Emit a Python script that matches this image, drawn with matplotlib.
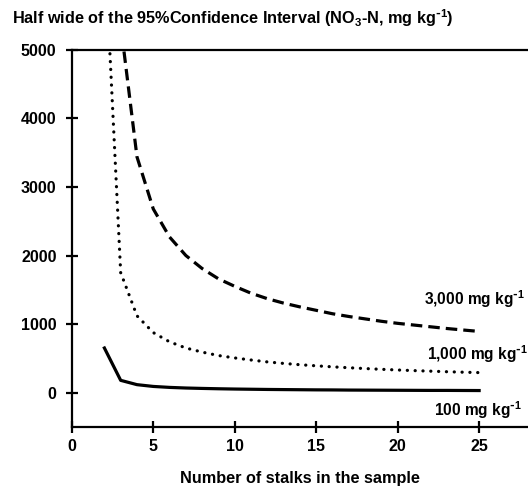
import matplotlib
matplotlib.use("Agg")
import matplotlib.pyplot as plt

plt.rcParams['font.family'] = ['Liberation Sans', 'DejaVu Sans']
plt.rcParams['font.weight'] = 'bold'
plt.rcParams['mathtext.default'] = 'regular'

# number of stalks in the sample
stalks = list(range(2, 26))

# half width of the 95% CI (NO3-N, mg kg-1)
ci_3000 = [19400, 5370, 3440, 2680, 2270, 2000, 1810, 1660, 1550, 1450, 1370, 1305,
           1250, 1200, 1150, 1110, 1075, 1040, 1010, 985, 960, 935, 913, 892]
ci_1000 = [6600, 1750, 1120, 875, 740, 650, 590, 540, 505, 475, 447, 425,
           406, 390, 375, 362, 350, 339, 329, 320, 312, 304, 297, 291]
ci_100 = [650, 178, 115, 89, 75, 66, 60, 55, 51, 48, 45, 43,
          41, 39, 38, 36, 35, 34, 33, 32, 31, 31, 30, 29]

series_labels = ["3,000 mg kg$^{\\text{-}1}$", "1,000 mg kg$^{\\text{-}1}$",
                 "100 mg kg$^{\\text{-}1}$"]
label_pos = [(21.6, 1360), (21.8, 560), (22.2, -250)]

fig = plt.figure(figsize=(5.28, 4.9), dpi=100)
ax = fig.add_axes([0.136, 0.129, 0.864, 0.769])

ax.plot(stalks, ci_3000, color='black', lw=2.3, linestyle=(0, (3.6, 1.9)))
ax.plot(stalks, ci_1000, color='black', lw=2.3, linestyle=(0, (0.05, 2.4)),
        dash_capstyle='round')
ax.plot(stalks, ci_100, color='black', lw=2.3)

for text, (x, y) in zip(series_labels, label_pos):
    ax.text(x, y, text, fontsize=11.2, fontweight='bold', va='center', ha='left',
            clip_on=False)

ax.set_xlim(0, 28)
ax.set_ylim(-500, 5000)
ax.set_xticks([0, 5, 10, 15, 20, 25])
ax.set_yticks([0, 1000, 2000, 3000, 4000, 5000])

for side in ['left', 'bottom', 'top']:
    ax.spines[side].set_linewidth(1.6)
ax.spines['right'].set_visible(False)

ax.tick_params(direction='inout', length=8, width=1.6, labelsize=11.5, pad=5)
ax.tick_params(axis='y', pad=7)
for lab in ax.get_xticklabels() + ax.get_yticklabels():
    lab.set_fontweight('bold')

ax.set_xlabel("Number of stalks in the sample", fontsize=11.7, fontweight='bold',
              labelpad=12)
fig.text(0.023, 0.963,
         "Half wide of the 95%Confidence Interval (NO$_3$-N, mg kg$^{\\text{-}1}$)",
         fontsize=11.7, fontweight='bold', ha='left', va='center')

fig.savefig("out.png", dpi=100)
